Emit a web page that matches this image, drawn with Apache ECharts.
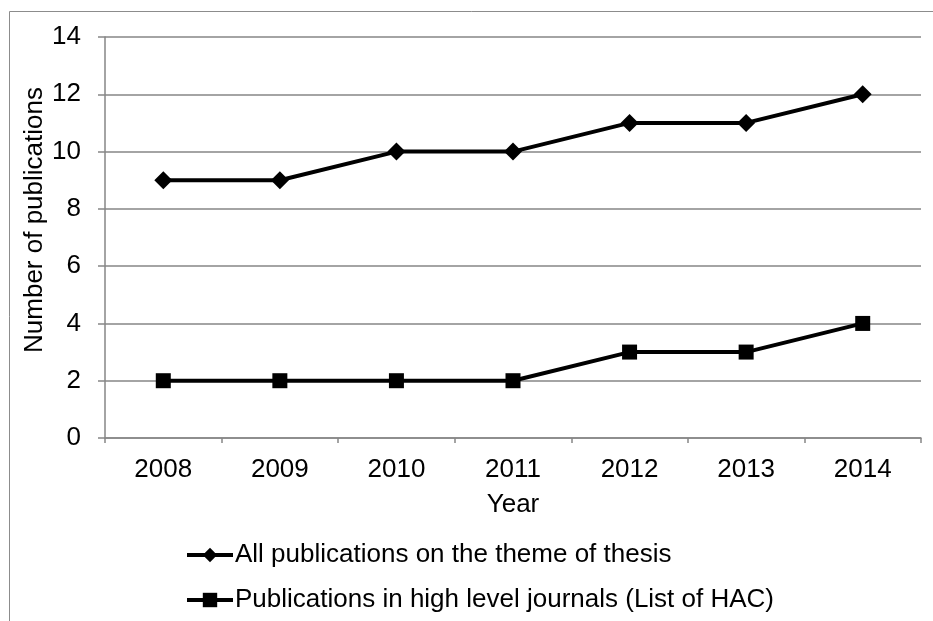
<!DOCTYPE html>
<html><head><meta charset="utf-8">
<script src="https://cdn.jsdelivr.net/npm/echarts@6/dist/echarts.min.js"></script>
<style>html,body{margin:0;padding:0;background:#fff}#c{width:933px;height:621px}</style>
</head><body><div id="c"></div>
<script>
const years = ['2008','2009','2010','2011','2012','2013','2014'];
const allPubs = [9, 9, 10, 10, 11, 11, 12];
const hacPubs = [2, 2, 2, 2, 3, 3, 4];
const yTicks = [0, 2, 4, 6, 8, 10, 12, 14];
const seriesNames = ['All publications on the theme of thesis', 'Publications in high level journals (List of HAC)'];
const yTitle = 'Number of publications';
const xTitle = 'Year';

const chart = echarts.init(document.getElementById('c'), null, {renderer: 'canvas'});
const font = 'Liberation Sans, Arial, sans-serif';
const FS = 26;
chart.setOption({
  animation: false,
  backgroundColor: '#fff',
  textStyle: {fontFamily: font},
  graphic: [{
    type: 'rect', shape: {x: 9.5, y: 11.5, width: 940, height: 640},
    style: {fill: 'none', stroke: '#8c8c8c', lineWidth: 1}, silent: true
  }, {
    type: 'text', x: 35, y: 220, rotation: Math.PI / 2, silent: true,
    style: {text: yTitle, font: FS + 'px ' + font, fill: '#000', align: 'center', verticalAlign: 'middle'}
  }],
  grid: {left: 105, right: 12, top: 37, bottom: 183, containLabel: false},
  legend: {
    orient: 'vertical', left: 185, top: 542, itemGap: 19, padding: 0,
    itemWidth: 46, itemHeight: 18,
    lineStyle: {width: 4},
    textStyle: {fontSize: FS, color: '#000', fontFamily: font, padding: [0, 0, 0, -3]},
    data: seriesNames
  },
  xAxis: {
    type: 'category', data: years, boundaryGap: true,
    name: xTitle, nameLocation: 'middle', nameGap: 54,
    nameTextStyle: {fontSize: FS, color: '#000', fontFamily: font},
    axisLine: {lineStyle: {color: '#868686', width: 1.5}},
    axisTick: {show: true, length: 5, alignWithLabel: false, lineStyle: {color: '#868686', width: 1.5}},
    axisLabel: {fontSize: FS, color: '#000', margin: 19, fontFamily: font},
    splitLine: {show: false}
  },
  yAxis: {
    type: 'value', min: 0, max: 14, interval: 2,
    axisLine: {show: true, lineStyle: {color: '#868686', width: 1.5}},
    axisTick: {show: true, length: 7, inside: false, lineStyle: {color: '#868686', width: 1.5}},
    axisLabel: {fontSize: FS, color: '#000', margin: 24, fontFamily: font,
      formatter: v => yTicks.includes(v) ? String(v) : ''},
    splitLine: {show: true, lineStyle: {color: '#868686', width: 1.5}}
  },
  series: [{
    name: seriesNames[0], type: 'line', data: allPubs,
    symbol: 'diamond', symbolSize: 18,
    lineStyle: {color: '#000', width: 4},
    itemStyle: {color: '#000'}
  }, {
    name: seriesNames[1], type: 'line', data: hacPubs,
    symbol: 'rect', symbolSize: 15,
    lineStyle: {color: '#000', width: 4},
    itemStyle: {color: '#000'}
  }]
});
</script></body></html>
